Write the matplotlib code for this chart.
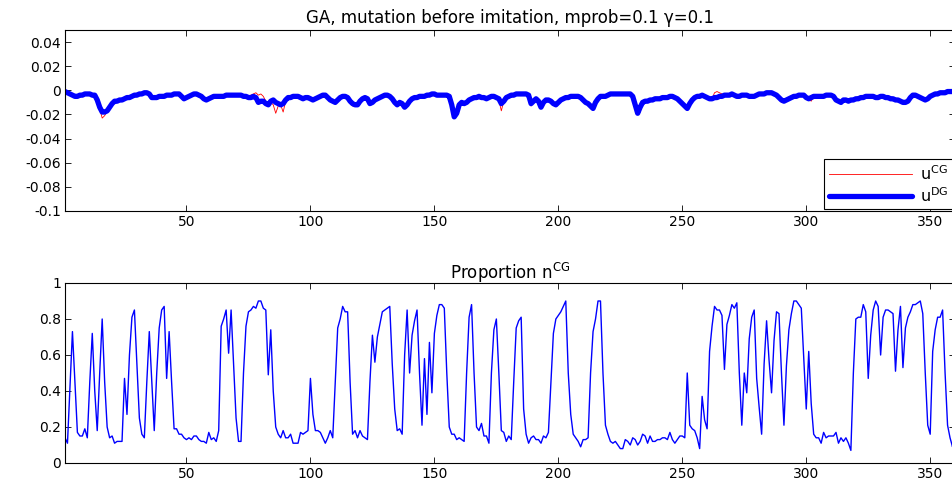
import matplotlib
matplotlib.use('Agg')
import matplotlib.pyplot as plt
import numpy as np

plt.rcParams['font.family'] = ['DejaVu Sans']
plt.rcParams['mathtext.default'] = 'regular'
plt.rcParams['axes.unicode_minus'] = False

# proportion n^CG (bottom panel), one value per generation 1..360
n_cg = [
    0.14, 0.11, 0.42, 0.73, 0.45, 0.17, 0.15, 0.15, 0.19, 0.14,
    0.45, 0.72, 0.40, 0.18, 0.50, 0.80, 0.45, 0.20, 0.14, 0.15,
    0.11, 0.12, 0.12, 0.12, 0.47, 0.27, 0.60, 0.81, 0.85, 0.55,
    0.25, 0.16, 0.14, 0.45, 0.73, 0.45, 0.18, 0.50, 0.75, 0.85,
    0.87, 0.47, 0.73, 0.45, 0.19, 0.19, 0.16, 0.16, 0.14, 0.13,
    0.14, 0.13, 0.15, 0.15, 0.13, 0.12, 0.12, 0.11, 0.17, 0.13,
    0.14, 0.12, 0.18, 0.76, 0.80, 0.85, 0.61, 0.85, 0.55, 0.25,
    0.12, 0.12, 0.50, 0.76, 0.84, 0.85, 0.87, 0.86, 0.90, 0.90,
    0.86, 0.85, 0.49, 0.74, 0.40, 0.20, 0.16, 0.14, 0.18, 0.14,
    0.14, 0.16, 0.11, 0.11, 0.11, 0.17, 0.16, 0.17, 0.18, 0.47,
    0.27, 0.18, 0.18, 0.17, 0.14, 0.11, 0.14, 0.18, 0.14, 0.45,
    0.75, 0.80, 0.87, 0.84, 0.84, 0.45, 0.16, 0.18, 0.14, 0.18,
    0.15, 0.14, 0.13, 0.45, 0.71, 0.56, 0.70, 0.77, 0.84, 0.85,
    0.86, 0.87, 0.55, 0.30, 0.18, 0.19, 0.16, 0.60, 0.85, 0.50,
    0.71, 0.79, 0.85, 0.50, 0.21, 0.58, 0.27, 0.67, 0.39, 0.72,
    0.82, 0.88, 0.88, 0.86, 0.50, 0.20, 0.16, 0.16, 0.13, 0.14,
    0.13, 0.12, 0.50, 0.81, 0.88, 0.50, 0.20, 0.18, 0.22, 0.15,
    0.15, 0.11, 0.50, 0.74, 0.80, 0.50, 0.18, 0.17, 0.12, 0.15,
    0.13, 0.45, 0.75, 0.79, 0.81, 0.30, 0.16, 0.11, 0.14, 0.15,
    0.13, 0.13, 0.11, 0.15, 0.14, 0.17, 0.45, 0.72, 0.80, 0.82,
    0.84, 0.87, 0.90, 0.50, 0.27, 0.16, 0.14, 0.12, 0.09, 0.13,
    0.13, 0.14, 0.50, 0.73, 0.80, 0.90, 0.90, 0.50, 0.21, 0.16,
    0.12, 0.11, 0.12, 0.10, 0.08, 0.08, 0.13, 0.12, 0.10, 0.14,
    0.13, 0.10, 0.12, 0.16, 0.15, 0.11, 0.15, 0.12, 0.12, 0.13,
    0.13, 0.14, 0.14, 0.13, 0.17, 0.13, 0.11, 0.13, 0.15, 0.15,
    0.14, 0.50, 0.21, 0.19, 0.18, 0.14, 0.08, 0.37, 0.24, 0.19,
    0.62, 0.76, 0.87, 0.85, 0.85, 0.82, 0.52, 0.77, 0.82, 0.88,
    0.86, 0.89, 0.50, 0.21, 0.50, 0.39, 0.69, 0.81, 0.85, 0.47,
    0.31, 0.16, 0.55, 0.79, 0.57, 0.39, 0.68, 0.84, 0.83, 0.50,
    0.21, 0.54, 0.74, 0.83, 0.90, 0.90, 0.88, 0.86, 0.58, 0.30,
    0.62, 0.33, 0.16, 0.14, 0.14, 0.11, 0.17, 0.14, 0.15, 0.15,
    0.15, 0.17, 0.11, 0.14, 0.12, 0.14, 0.11, 0.07, 0.50, 0.80,
    0.81, 0.81, 0.88, 0.84, 0.47, 0.71, 0.85, 0.90, 0.87, 0.60,
    0.81, 0.85, 0.85, 0.84, 0.83, 0.51, 0.74, 0.87, 0.53, 0.75,
    0.81, 0.84, 0.88, 0.88, 0.89, 0.90, 0.83, 0.50, 0.21, 0.16,
    0.62, 0.74, 0.81, 0.81, 0.85, 0.50, 0.21, 0.14, 0.09, 0.18,
]

# payoffs u^DG and u^CG (top panel), in units of 1e-3
u_dg_milli = [
    -1, -2, -3, -4, -5, -5, -4, -4, -3, -3,
    -3, -4, -4, -8, -14, -18, -18, -17, -14, -11,
    -9, -9, -8, -8, -7, -6, -6, -5, -4, -4,
    -3, -3, -2, -2, -3, -6, -6, -6, -5, -5,
    -5, -4, -4, -4, -3, -3, -3, -5, -7, -6,
    -5, -4, -3, -3, -4, -5, -7, -8, -7, -6,
    -5, -5, -5, -5, -5, -4, -4, -4, -4, -4,
    -4, -4, -5, -5, -6, -6, -5, -6, -10, -9,
    -9, -11, -12, -9, -8, -10, -11, -12, -11, -8,
    -6, -6, -5, -5, -5, -6, -7, -6, -6, -7,
    -8, -7, -6, -5, -4, -4, -6, -8, -9, -10,
    -8, -6, -5, -5, -6, -9, -11, -12, -12, -9,
    -7, -6, -7, -11, -10, -8, -7, -6, -5, -4,
    -4, -5, -7, -10, -12, -10, -11, -14, -12, -9,
    -7, -6, -6, -5, -5, -5, -4, -4, -3, -3,
    -4, -4, -4, -4, -4, -5, -12, -22, -19, -12,
    -10, -11, -10, -8, -7, -6, -6, -5, -6, -6,
    -7, -6, -5, -5, -6, -7, -11, -9, -6, -5,
    -4, -4, -3, -3, -3, -3, -3, -4, -11, -9,
    -7, -9, -14, -10, -8, -8, -9, -11, -12, -10,
    -8, -7, -6, -6, -5, -5, -5, -5, -6, -8,
    -10, -11, -13, -15, -10, -7, -5, -5, -5, -4,
    -3, -3, -3, -3, -3, -3, -3, -3, -3, -5,
    -12, -19, -14, -10, -9, -9, -8, -8, -7, -7,
    -7, -6, -6, -6, -5, -5, -6, -7, -9, -11,
    -13, -15, -11, -8, -6, -5, -5, -4, -5, -6,
    -7, -7, -6, -6, -5, -5, -4, -4, -4, -3,
    -4, -5, -5, -4, -4, -4, -5, -5, -5, -4,
    -3, -3, -3, -2, -2, -2, -3, -4, -6, -8,
    -9, -8, -7, -6, -5, -5, -4, -4, -4, -6,
    -7, -6, -5, -5, -5, -5, -5, -4, -4, -4,
    -5, -8, -9, -10, -8, -8, -9, -8, -8, -7,
    -7, -6, -6, -5, -5, -5, -5, -6, -6, -5,
    -5, -6, -6, -7, -7, -8, -8, -9, -10, -10,
    -9, -6, -4, -4, -5, -6, -7, -8, -7, -5,
    -4, -3, -3, -2, -2, -2, -1, -1, -1, -1,
]

u_cg_milli = [
    -1, -2, -3, -4, -5, -5, -4, -4, -3, -3,
    -3, -4, -4, -8, -15, -23, -21, -17, -14, -11,
    -9, -9, -8, -8, -7, -6, -6, -5, -4, -4,
    -3, -3, -2, -2, -3, -6, -6, -6, -5, -5,
    -5, -4, -4, -4, -3, -3, -3, -5, -7, -6,
    -5, -4, -3, -3, -4, -5, -7, -8, -7, -6,
    -5, -5, -5, -5, -5, -4, -4, -4, -4, -4,
    -4, -4, -5, -5, -5, -4, -3, -2, -4, -3,
    -5, -9, -12, -10, -12, -19, -13, -12, -18, -9,
    -6, -6, -5, -5, -5, -6, -7, -6, -6, -7,
    -8, -7, -6, -5, -4, -4, -6, -8, -9, -10,
    -8, -6, -5, -5, -7, -10, -13, -13, -12, -9,
    -7, -6, -7, -11, -10, -8, -7, -6, -5, -4,
    -4, -5, -7, -10, -12, -10, -11, -14, -12, -9,
    -7, -6, -6, -5, -5, -5, -4, -4, -3, -3,
    -4, -4, -4, -4, -4, -5, -13, -23, -19, -12,
    -10, -11, -10, -8, -7, -6, -6, -5, -6, -6,
    -7, -6, -5, -5, -6, -8, -17, -9, -6, -5,
    -4, -4, -3, -3, -3, -3, -3, -4, -13, -9,
    -7, -9, -14, -10, -8, -8, -9, -11, -12, -10,
    -8, -7, -6, -6, -5, -5, -5, -5, -6, -8,
    -10, -11, -13, -15, -10, -7, -5, -5, -5, -4,
    -3, -3, -3, -3, -3, -3, -3, -3, -3, -5,
    -12, -19, -14, -10, -9, -9, -8, -8, -7, -7,
    -7, -6, -6, -6, -5, -5, -6, -7, -9, -11,
    -13, -15, -11, -8, -6, -5, -5, -4, -5, -6,
    -7, -7, -2, -1, -2, -3, -4, -4, -4, -3,
    -4, -5, -5, -4, -4, -4, -5, -5, -5, -4,
    -3, -3, -3, -2, -2, -2, -3, -5, -7, -10,
    -9, -8, -7, -6, -5, -5, -4, -4, -4, -6,
    -7, -9, -5, -5, -5, -5, -5, -4, -4, -4,
    -5, -8, -9, -10, -8, -8, -9, -8, -8, -7,
    -7, -6, -6, -5, -5, -5, -5, -6, -6, -5,
    -5, -6, -6, -7, -7, -8, -8, -9, -10, -10,
    -9, -6, -4, -4, -5, -6, -7, -8, -7, -5,
    -4, -3, -3, -2, -2, -2, -1, -1, -1, -1,
]

gen = np.arange(1, len(n_cg) + 1)
u_dg = np.array(u_dg_milli) / 1000.0
u_cg = np.array(u_cg_milli) / 1000.0

xticks = [50, 100, 150, 200, 250, 300, 350]
top_yticks = [-0.1, -0.08, -0.06, -0.04, -0.02, 0, 0.02, 0.04]
top_ylabels = ['-0.1', '-0.08', '-0.06', '-0.04', '-0.02', '0', '0.02', '0.04']
bot_yticks = [0, 0.2, 0.4, 0.6, 0.8, 1]
bot_ylabels = ['0', '0.2', '0.4', '0.6', '0.8', '1']

fig = plt.figure(figsize=(9.53, 4.84), dpi=100)
W, H = 953.0, 484.0
ax1 = fig.add_axes([65 / W, 1 - 211 / H, 890 / W, 181 / H])
ax2 = fig.add_axes([65 / W, 1 - 463 / H, 890 / W, 180 / H])


def style(ax):
    ax.tick_params(direction='in', top=True, right=True, length=4,
                   width=0.6, labelsize=10, pad=3, colors='black')
    for s in ax.spines.values():
        s.set_linewidth(0.8)
    ax.set_xlim(1, 360)
    ax.set_xticks(xticks)
    ax.set_xticklabels([str(t) for t in xticks])


ax1.plot(gen, u_cg, color='red', lw=0.6, label='u$^{CG}$')
ax1.plot(gen, u_dg, color='blue', lw=3.8, label='u$^{DG}$', solid_capstyle='round')
style(ax1)
ax1.set_ylim(-0.1, 0.05)
ax1.set_yticks(top_yticks)
ax1.set_yticklabels(top_ylabels)
ax1.set_title('GA, mutation before imitation, mprob=0.1 \u03b3=0.1', fontsize=12, pad=5)
leg = ax1.legend(loc='lower right', fancybox=False, edgecolor='black', framealpha=1,
                 fontsize=11.5, borderaxespad=0.1, handlelength=5.2, handletextpad=0.5,
                 labelspacing=0.2, borderpad=0.3)
leg.get_frame().set_linewidth(0.8)

ax2.plot(gen, n_cg, color='blue', lw=1.0)
style(ax2)
ax2.set_ylim(0, 1)
ax2.set_yticks(bot_yticks)
ax2.set_yticklabels(bot_ylabels)
ax2.set_title('Proportion n$^{CG}$', fontsize=12, pad=3)

fig.savefig('out.png', dpi=100)
